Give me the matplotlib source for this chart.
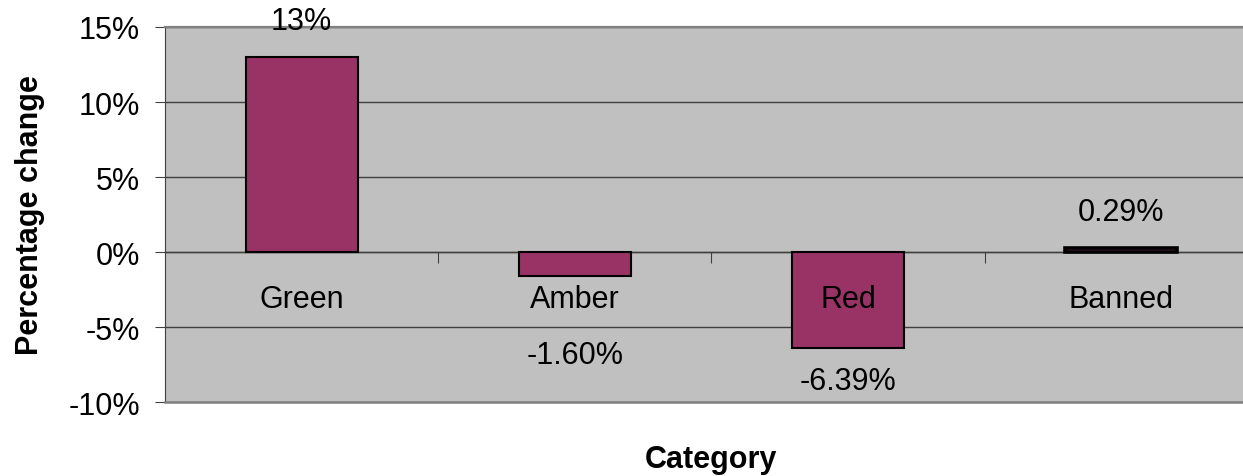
import matplotlib
matplotlib.use('Agg')
import matplotlib.pyplot as plt
from matplotlib.ticker import FuncFormatter

plt.rcParams['font.family'] = ['Liberation Sans', 'DejaVu Sans']

categories = ['Green', 'Amber', 'Red', 'Banned']
changes = [13.0, -1.60, -6.39, 0.29]          # percentage change
value_labels = ['13%', '-1.60%', '-6.39%', '0.29%']
yticks = [-10, -5, 0, 5, 10, 15]

# label offsets (points) relative to the bar end
label_offsets = [26, -57, -24, 26]

fig = plt.figure(figsize=(12.43, 4.77), dpi=100)
ax = fig.add_axes([0.1327, 0.1551, 0.8793, 0.7862])
ax.set_facecolor('#C0C0C0')

x = list(range(len(categories)))
bars = ax.bar(x, changes, width=0.41, color='#993366', edgecolor='black', linewidth=1.5, zorder=3)
# the banned bar is so small it shows as a thick black line
bars[3].set_linewidth(2.6)

ax.set_xlim(-0.5, 3.5)
ax.set_ylim(-10, 15)
ax.set_yticks(yticks)
ax.yaxis.set_major_formatter(FuncFormatter(lambda v, p: f'{v:.0f}%'))
ax.tick_params(axis='y', labelsize=22, length=7, color='#404040', pad=11)
ax.yaxis.grid(True, color='#404040', linewidth=1)
ax.set_axisbelow(True)

# category axis sits on the zero line
ax.spines['bottom'].set_position(('data', 0))
ax.spines['bottom'].set_color('#404040')
ax.spines['bottom'].set_linewidth(1)
ax.set_xticks([0.5, 1.5, 2.5])
ax.set_xticklabels([])
ax.tick_params(axis='x', length=8, color='#404040', direction='out')
for i, name in enumerate(categories):
    ax.annotate(name, (i, 0), xytext=(0, -34), textcoords='offset points',
                ha='center', va='center', fontsize=22)

ax.spines['left'].set_color('#404040')
ax.spines['right'].set_visible(False)
ax.spines['top'].set_color('#808080')
ax.spines['top'].set_linewidth(1.6)
ax.axhline(-10, color='#808080', linewidth=1.8, zorder=4, clip_on=False)

for i, (v, lab) in enumerate(zip(changes, value_labels)):
    ax.annotate(lab, (i, v), xytext=(0, label_offsets[i]), textcoords='offset points',
                ha='center', va='center', fontsize=22, annotation_clip=False)

ax.text(-0.1235, 0.5, 'Percentage change', transform=ax.transAxes, rotation=90,
        ha='center', va='center', fontsize=22, fontweight='bold')
ax.text(0.5, -0.152, 'Category', transform=ax.transAxes,
        ha='center', va='center', fontsize=22, fontweight='bold')

fig.savefig('out.png', dpi=100)
